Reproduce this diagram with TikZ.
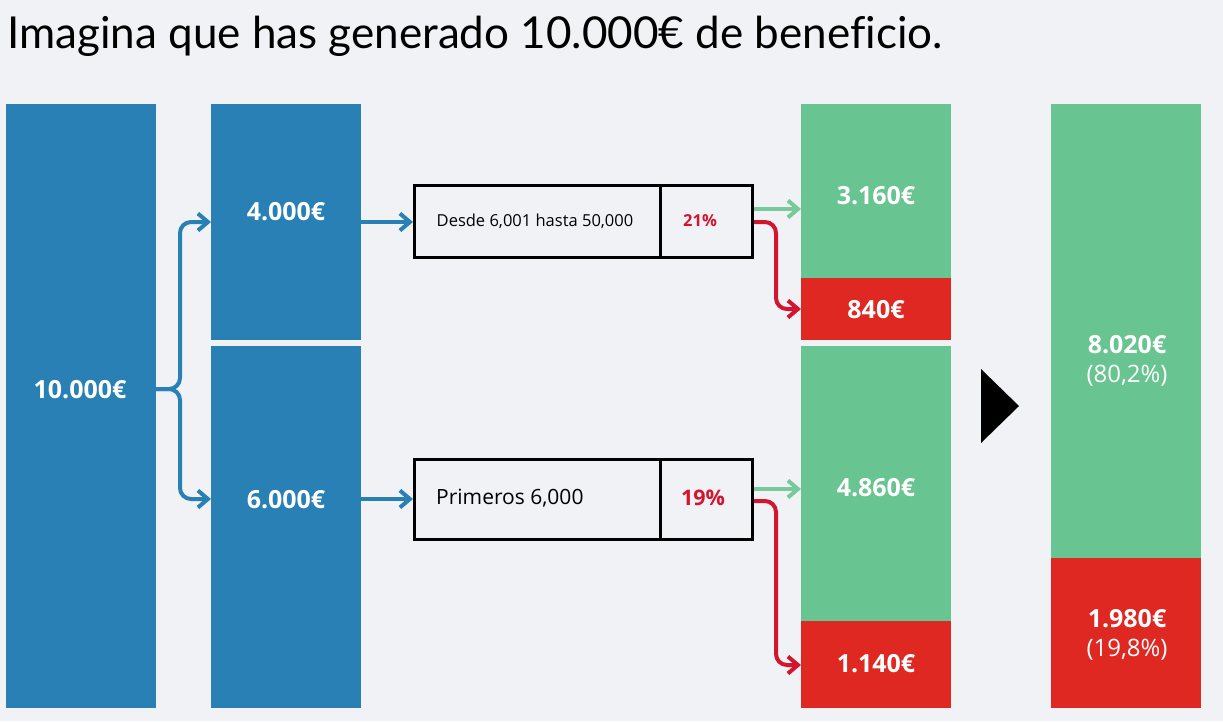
\documentclass[tikz,border=0pt]{standalone}
\usepackage{fontspec}
\setmainfont{Open Sans}
\newfontfamily\titlefont[Ligatures=NoCommon]{Lato}
\usetikzlibrary{arrows.meta}
\definecolor{bg}{RGB}{241,242,246}
\definecolor{colblue}{RGB}{40,128,180}
\definecolor{colgreen}{RGB}{104,196,144}
\definecolor{colred}{RGB}{224,40,34}
\definecolor{arrred}{RGB}{210,22,48}
\definecolor{arrgreen}{RGB}{120,202,155}
\tikzset{
  bar/.style={draw=none,inner sep=0pt,outer sep=0pt,anchor=north west},
  lab/.style={text=white,font=\fontsize{25}{28}\selectfont\bfseries,inner sep=0pt},
  sublab/.style={text=white,font=\fontsize{24}{27}\selectfont,inner sep=0pt},
  cell/.style={draw=black,line width=3pt,fill=none,inner sep=0pt,anchor=north west},
  tip/.style={-{Straight Barb[length=10pt,width=17pt,line width=4pt]}},
  bluearr/.style={tip,draw=colblue,line width=4pt,rounded corners=11pt},
  greenarr/.style={tip,draw=arrgreen,line width=4pt},
  redarr/.style={tip,draw=arrred,line width=4pt,rounded corners=11pt},
}
\begin{document}
\begin{tikzpicture}[x=1pt,y=-1pt]
\useasboundingbox (0,0) rectangle (1223,721);
\fill[bg] (0,0) rectangle (1223,721);
% title
\node[anchor=base west,inner sep=0pt,font=\titlefont\fontsize{44}{48}\selectfont] (title) at (7,48) {Imagina que has generado 10.000€ de beneficio.};
% column 1
\node[bar,fill=colblue,minimum width=150pt,minimum height=604pt] (c1) at (6,104) {};
\node[lab] (l1) at (80,390) {10.000€};
% column 2
\node[bar,fill=colblue,minimum width=150pt,minimum height=236pt] (c2a) at (211,104) {};
\node[bar,fill=colblue,minimum width=150pt,minimum height=362pt] (c2b) at (211,346) {};
\node[lab] (l2a) at (286,212) {4.000€};
\node[lab] (l2b) at (286,500) {6.000€};
% boxes
\node[cell,minimum width=246pt,minimum height=72pt] (b1) at (413,184) {};
\node[cell,minimum width=92pt,minimum height=72pt] (p1) at (659,184) {};
\node[font=\fontsize{16.5}{19}\selectfont,inner sep=0pt] (t1) at (535,221) {Desde 6,001 hasta 50,000};
\node[font=\fontsize{16.5}{19}\selectfont\bfseries,text=arrred,inner sep=0pt] (r1) at (700,221) {21\%};
\node[cell,minimum width=246pt,minimum height=80pt] (b2) at (413,458) {};
\node[cell,minimum width=92pt,minimum height=80pt] (p2) at (659,458) {};
\node[font=\fontsize{21}{24}\selectfont,inner sep=0pt,anchor=west] (t2) at (436,498) {Primeros 6,000};
\node[font=\fontsize{21.5}{24}\selectfont\bfseries,text=arrred,inner sep=0pt] (r2) at (703,498) {19\%};
% column 3
\node[bar,fill=colgreen,minimum width=150pt,minimum height=174pt] (g1) at (801,104) {};
\node[bar,fill=colred,minimum width=150pt,minimum height=62pt] (d1) at (801,278) {};
\node[bar,fill=colgreen,minimum width=150pt,minimum height=275pt] (g2) at (801,346) {};
\node[bar,fill=colred,minimum width=150pt,minimum height=87pt] (d2) at (801,621) {};
\node[lab] (l3a) at (876,196) {3.160€};
\node[lab] (l3b) at (876,310) {840€};
\node[lab] (l3c) at (876,488) {4.860€};
\node[lab] (l3d) at (876,664) {1.140€};
% triangle
\fill[black] (981,369) -- (1019,406) -- (981,443) -- cycle;
% column 4
\node[bar,fill=colgreen,minimum width=150pt,minimum height=454pt] (g4) at (1051,104) {};
\node[bar,fill=colred,minimum width=150pt,minimum height=150pt] (d4) at (1051,558) {};
\node[lab] (l4a) at (1127,345) {8.020€};
\node[sublab] (l4b) at (1127,376) {(80,2\%)};
\node[lab] (l4c) at (1127,619) {1.980€};
\node[sublab] (l4d) at (1127,650) {(19,8\%)};
% connectors
\coordinate (j) at (c1.east |- 0,389);
\coordinate (ta) at (c2a.west |- 0,222);
\coordinate (tb) at (c2b.west |- 0,499);
\draw[bluearr] (j) -- (180,389) -- (180,222) -- (ta);
\draw[bluearr] (j) -- (180,389) -- (180,499) -- (tb);
\draw[bluearr,rounded corners=0pt] (c2a.east |- ta) -- (b1.west |- ta);
\draw[bluearr,rounded corners=0pt] (c2b.east |- tb) -- (b2.west |- tb);
\draw[greenarr] (p1.east |- 0,209) -- (g1.west |- 0,209);
\draw[redarr] (p1.east |- 0,222) -- (776,222) -- (776,309) -- (d1.west |- 0,309);
\draw[greenarr] (p2.east |- 0,489) -- (g2.west |- 0,489);
\draw[redarr] (p2.east |- 0,501) -- (776,501) -- (776,665) -- (d2.west |- 0,665);
\end{tikzpicture}
\end{document}
